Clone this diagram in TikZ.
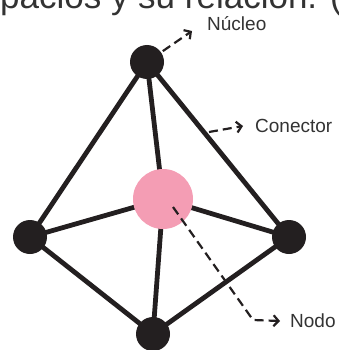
\documentclass[tikz,border=0pt]{standalone}
\usepackage{fontspec}
\setmainfont{Liberation Sans}
\usetikzlibrary{arrows.meta, positioning, backgrounds}
\definecolor{nucleo}{HTML}{231F20}
\definecolor{nodopink}{HTML}{F49DB4}
\definecolor{labelgray}{HTML}{333333}

\begin{document}
\begin{tikzpicture}[
    x=1pt, y=-1pt,
    every node/.style={font=\fontsize{19}{22}\selectfont},
    nucleus/.style={
        circle, fill=nucleo,
        minimum size=34pt, inner sep=0pt
    },
    hub/.style={
        circle, fill=nodopink,
        minimum size=60pt, inner sep=0pt
    },
    link/.style={line width=4.8pt, draw=nucleo},
    pointer/.style={
        dash pattern=on 9pt off 5pt,
        line width=2.2pt, draw=nucleo,
        -{Straight Barb[length=5pt, width=11pt]}
    },
    caption/.style={text=labelgray, inner sep=0pt},
]
\path[use as bounding box, clip] (0,0) rectangle (338,350);

% Nodes
\node (top) [nucleus] at (147,62) {};
\node (left) [nucleus] at (30,237) {};
\node (right) [nucleus] at (289,237) {};
\node (bottom) [nucleus] at (153,334) {};
\node (hub) [hub] at (163,199) {};

% Links
\begin{scope}[on background layer]
\draw [link] (top.center) -- (left.center);
\draw [link] (top.center) -- (hub.center);
\draw [link] (top.center) -- (right.center);
\draw [link] (left.center) -- (hub.center);
\draw [link] (left.center) -- (bottom.center);
\draw [link] (hub.center) -- (bottom.center);
\draw [link] (hub.center) -- (right.center);
\draw [link] (right.center) -- (bottom.center);
\end{scope}

% Pointers
\coordinate (nucleotip) at (192,31);
\coordinate (conectorstart) at (209,132);
\coordinate (conectortip) at (243,126);
\coordinate (nodostart) at (173,207);
\coordinate (nodocorner) at (253,320);
\coordinate (nodotip) at (280,321);

\draw [pointer, shorten <=2pt] (top) -- (nucleotip);
\draw [pointer] (conectorstart) -- (conectortip);
\draw [pointer] (nodostart) -- (nodocorner) -- (nodotip);

% Labels
\node (nucleolabel) [caption, right=15pt of nucleotip, anchor=base west] {Núcleo};
\node (conectorlabel) [caption, right=12pt of conectortip] {Conector};
\node (nodolabel) [caption, right=10pt of nodotip] {Nodo};

\node (heading) [caption, font=\fontsize{35}{40}\selectfont, anchor=base west] at (-37,9) {espacios y su relación. (a)};

\end{tikzpicture}
\end{document}
